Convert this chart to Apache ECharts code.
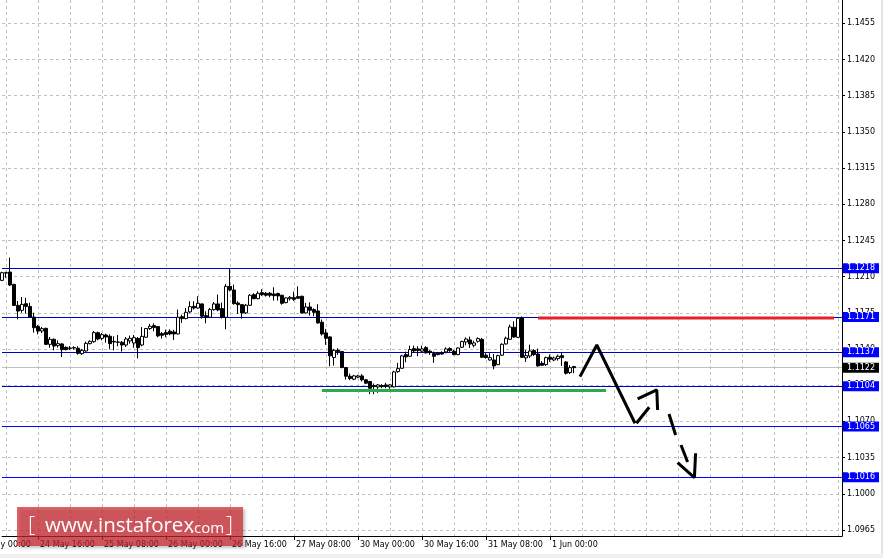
<!DOCTYPE html>
<html><head><meta charset="utf-8">
<script src="https://cdn.jsdelivr.net/npm/echarts@6/dist/echarts.min.js"></script>
<style>html,body{margin:0;padding:0;background:#fff;}#c{width:883px;height:558px;}</style>
</head><body><div id="c"></div><script>
// ---- data ----
const days = ['24 May','25 May','26 May','27 May','30 May','31 May','1 Jun','2 Jun','3 Jun','6 Jun'];
const slotCount = 218;          // hourly slots counted from 24 May 00:00 (incl. chart shift)
const firstBar = 7;             // first visible bar: 24 May 07:00
const firstTimeLabel = '24 May 00:00';
const opens = [1.12064,1.12138,1.12144,1.12025,1.11822,1.11774,1.11838,1.11812,1.11709,1.11619,1.11574,1.11600,1.11445,1.11494,1.11433,1.11449,1.11416,1.11410,1.11413,1.11407,1.11355,1.11381,1.11452,1.11471,1.11558,1.11503,1.11536,1.11523,1.11474,1.11468,1.11465,1.11439,1.11478,1.11458,1.11503,1.11439,1.11514,1.11598,1.11627,1.11617,1.11549,1.11559,1.11572,1.11565,1.11546,1.11713,1.11694,1.11759,1.11813,1.11797,1.11836,1.11723,1.11707,1.11781,1.11836,1.11791,1.11707,1.12006,1.11971,1.11845,1.11829,1.11749,1.11823,1.11926,1.11887,1.11945,1.11939,1.11939,1.11932,1.11936,1.11920,1.11849,1.11887,1.11897,1.11907,1.11910,1.11749,1.11807,1.11781,1.11768,1.11659,1.11556,1.11517,1.11318,1.11388,1.11375,1.11221,1.11137,1.11108,1.11128,1.11140,1.11102,1.11086,1.11047,1.11034,1.11047,1.11053,1.11034,1.11034,1.11182,1.11214,1.11346,1.11330,1.11404,1.11401,1.11379,1.11414,1.11379,1.11356,1.11359,1.11365,1.11372,1.11404,1.11378,1.11346,1.11417,1.11468,1.11488,1.11436,1.11475,1.11494,1.11340,1.11294,1.11294,1.11249,1.11340,1.11449,1.11494,1.11610,1.11513,1.11700,1.11314,1.11333,1.11385,1.11352,1.11262,1.11249,1.11320,1.11294,1.11307,1.11336,1.11275,1.11172,1.11230];
const closes = [1.12138,1.12134,1.12019,1.11822,1.11767,1.11832,1.11812,1.11709,1.11606,1.11574,1.11597,1.11445,1.11494,1.11429,1.11452,1.11394,1.11394,1.11407,1.11410,1.11358,1.11387,1.11455,1.11474,1.11558,1.11497,1.11539,1.11516,1.11452,1.11468,1.11465,1.11439,1.11497,1.11503,1.11510,1.11413,1.11523,1.11598,1.11620,1.11607,1.11527,1.11533,1.11540,1.11546,1.11546,1.11707,1.11694,1.11755,1.11810,1.11797,1.11842,1.11717,1.11707,1.11781,1.11836,1.11778,1.11707,1.12006,1.11971,1.11839,1.11829,1.11749,1.11823,1.11920,1.11887,1.11939,1.11926,1.11920,1.11920,1.11916,1.11913,1.11842,1.11894,1.11900,1.11881,1.11891,1.11749,1.11807,1.11775,1.11755,1.11652,1.11546,1.11504,1.11334,1.11388,1.11375,1.11221,1.11137,1.11115,1.11140,1.11140,1.11102,1.11070,1.11021,1.11037,1.11053,1.11037,1.11041,1.11053,1.11179,1.11211,1.11334,1.11324,1.11395,1.11382,1.11385,1.11401,1.11363,1.11366,1.11330,1.11346,1.11352,1.11401,1.11385,1.11346,1.11410,1.11472,1.11497,1.11449,1.11459,1.11501,1.11320,1.11317,1.11317,1.11237,1.11336,1.11446,1.11504,1.11613,1.11517,1.11697,1.11320,1.11336,1.11381,1.11346,1.11237,1.11243,1.11317,1.11301,1.11314,1.11330,1.11317,1.11166,1.11220,1.11220];
const lows = [1.12057,1.12089,1.12009,1.11816,1.11687,1.11751,1.11742,1.11703,1.11558,1.11542,1.11555,1.11439,1.11413,1.11387,1.11413,1.11323,1.11387,1.11391,1.11394,1.11346,1.11342,1.11375,1.11445,1.11461,1.11484,1.11484,1.11461,1.11397,1.11387,1.11426,1.11375,1.11420,1.11452,1.11413,1.11310,1.11426,1.11507,1.11585,1.11572,1.11514,1.11501,1.11514,1.11533,1.11488,1.11540,1.11652,1.11688,1.11746,1.11781,1.11791,1.11694,1.11649,1.11701,1.11771,1.11765,1.11694,1.11591,1.11958,1.11829,1.11739,1.11694,1.11739,1.11817,1.11881,1.11881,1.11913,1.11907,1.11900,1.11868,1.11868,1.11829,1.11842,1.11868,1.11865,1.11884,1.11743,1.11743,1.11723,1.11717,1.11646,1.11530,1.11440,1.11234,1.11240,1.11343,1.11214,1.11105,1.11099,1.11099,1.11118,1.11086,1.11060,1.10963,1.10963,1.10976,1.11021,1.11021,1.11015,1.11028,1.11169,1.11208,1.11272,1.11324,1.11363,1.11330,1.11369,1.11356,1.11343,1.11266,1.11340,1.11346,1.11359,1.11372,1.11340,1.11340,1.11410,1.11436,1.11410,1.11417,1.11462,1.11314,1.11307,1.11288,1.11204,1.11243,1.11333,1.11443,1.11488,1.11507,1.11507,1.11314,1.11275,1.11314,1.11333,1.11230,1.11237,1.11237,1.11275,1.11282,1.11288,1.11237,1.11153,1.11159,1.11166];
const highs = [1.12147,1.12147,1.12283,1.12031,1.11864,1.11903,1.11896,1.11848,1.11751,1.11632,1.11613,1.11606,1.11516,1.11503,1.11484,1.11458,1.11426,1.11429,1.11426,1.11426,1.11400,1.11471,1.11484,1.11574,1.11568,1.11555,1.11548,1.11542,1.11523,1.11536,1.11478,1.11516,1.11529,1.11536,1.11516,1.11613,1.11604,1.11643,1.11649,1.11623,1.11565,1.11588,1.11591,1.11585,1.11781,1.11733,1.11797,1.11862,1.11862,1.11910,1.11842,1.11765,1.11797,1.11855,1.11926,1.11849,1.12029,1.12180,1.12023,1.11862,1.11836,1.11836,1.11932,1.11939,1.11958,1.11978,1.11952,1.11952,1.11997,1.11945,1.11926,1.11900,1.11913,1.11955,1.12007,1.11916,1.11846,1.11852,1.11794,1.11833,1.11685,1.11594,1.11524,1.11401,1.11408,1.11382,1.11227,1.11163,1.11150,1.11150,1.11157,1.11111,1.11092,1.11066,1.11060,1.11060,1.11073,1.11060,1.11189,1.11266,1.11343,1.11375,1.11433,1.11433,1.11427,1.11433,1.11427,1.11388,1.11375,1.11369,1.11378,1.11417,1.11417,1.11391,1.11417,1.11481,1.11513,1.11520,1.11481,1.11513,1.11507,1.11359,1.11359,1.11352,1.11346,1.11455,1.11520,1.11636,1.11668,1.11707,1.11716,1.11391,1.11443,1.11398,1.11404,1.11282,1.11327,1.11346,1.11327,1.11346,1.11365,1.11282,1.11243,1.11237];
const yTicks = [1.0965,1.1000,1.1035,1.1070,1.1105,1.1140,1.1175,1.1210,1.1245,1.1280,1.1315,1.1350,1.1385,1.1420,1.1455];
const yMin = 1.09592, yMax = 1.14775;
const levelsUpper = [1.1218,1.1171,1.1137,1.1104];
const levelsLower = [1.1065,1.1016];
const bidPrice = 1.1122;
const redLine = [[141,1.1170],[215,1.1170]];
const greenLine = [[87,1.1100],[158,1.1100]];
const arrowStrokes = [
  [[151.5,1.11133],[155.7,1.11439],[165.25,1.10682]],
  [[165.6,1.10682],[168.8,1.10837]],
  [[165.9,1.10917],[170.7,1.11004],[170.9,1.10811]],
  [[173.75,1.10772],[175.4,1.10569]],
  [[176.75,1.10472],[178.4,1.10308]],
  [[175.9,1.10301],[180.1,1.10156],[180.4,1.10392]]
];

// ---- build ----
const FONT = 'DejaVu Sans';
const categories = [];
for (let g = firstBar; g < slotCount; g++) {
  categories.push(days[Math.floor(g / 24)] + ' ' + String(g % 24).padStart(2, '0') + ':00');
}
const lastBar = firstBar + opens.length - 1;
const candleData = opens.map((o, k) => [o, closes[k], lows[k], highs[k]]);

const boxLabel = (bg) => ({
  show: true, position: 'end', distance: 1,
  formatter: p => Number(p.value).toFixed(4),
  backgroundColor: bg, color: '#fff', fontFamily: FONT, fontSize: 8,
  lineHeight: 9, padding: [1, 4, 0, 4]
});
const levelLines = [];
levelsUpper.forEach(v => levelLines.push({yAxis: v, lineStyle: {color: '#0000c8', width: 1, type: 'solid'}, label: boxLabel('#0000ff')}));
levelsLower.forEach(v => levelLines.push({yAxis: v, lineStyle: {color: '#0000ff', width: 1, type: 'solid'}, label: boxLabel('#0000ff')}));
levelLines.push({yAxis: bidPrice, lineStyle: {color: '#c0c0c0', width: 1, type: 'solid'}, label: boxLabel('#000000')});

const lineSeries = (pts, color, z) => ({
  type: 'line', xAxisIndex: 1, yAxisIndex: 0, data: pts, symbol: 'none', silent: true,
  lineStyle: {color: color, width: 3, cap: 'butt'}, z: z, animation: false
});

const series = [
  { type: 'line', xAxisIndex: 0, data: [], silent: true, z: 1,
    markLine: { silent: true, symbol: ['none','none'], animation: false, z: 1, precision: 5,
      label: {show: false},
      lineStyle: {color: '#c0c0c0', width: 1, type: [3, 3]},
      data: yTicks.map(v => ({yAxis: v})) } },
  { type: 'candlestick', xAxisIndex: 0, data: candleData, barWidth: 3, silent: true, z: 3,
    itemStyle: {color: '#ffffff', color0: '#000000', borderColor: '#000000', borderColor0: '#000000', borderColorDoji: '#000000', borderWidth: 1},
    markLine: { silent: true, symbol: ['none','none'], animation: false, z: 2, precision: 5, data: levelLines } },
  lineSeries(redLine, '#e3232b', 4),
  lineSeries(greenLine, '#2ca84e', 4)
];
arrowStrokes.forEach(s => series.push(lineSeries(s, '#000000', 5)));

const chart = echarts.init(document.getElementById('c'));
chart.setOption({
  animation: false,
  backgroundColor: '#ffffff',
  grid: {left: 2, right: 41, top: 0, bottom: 22},
  xAxis: [
    { type: 'category', data: categories, boundaryGap: false,
      axisLine: {show: true, lineStyle: {color: '#000', width: 1}},
      axisTick: {show: true, length: 4, interval: (i) => (i + firstBar) % 16 === 0 && (i + firstBar) <= lastBar, lineStyle: {color: '#000'}},
      axisLabel: {interval: (i) => (i + firstBar) % 16 === 0 && (i + firstBar) <= lastBar, align: 'left', margin: 5, color: '#000', fontFamily: FONT, fontSize: 8, padding: [0, 0, 0, 2]},
      splitLine: {show: true, interval: (i) => (i + firstBar) % 8 === 0, lineStyle: {color: '#c0c0c0', width: 1, type: [3, 3]}} },
    { type: 'value', min: firstBar, max: slotCount - 1, show: false }
  ],
  yAxis: {
    type: 'value', position: 'right', min: yMin, max: yMax,
    axisLine: {show: true, lineStyle: {color: '#000', width: 1}},
    axisTick: {show: true, length: 3, customValues: yTicks, lineStyle: {color: '#000'}},
    axisLabel: {customValues: yTicks, formatter: v => Number(v).toFixed(4), margin: 5, color: '#000', fontFamily: FONT, fontSize: 8},
    splitLine: {show: false}
  },
  series: series,
  graphic: [
    {type: 'text', z: 10, style: {x: -24, y: 541, text: firstTimeLabel, fill: '#000', font: '8px "DejaVu Sans"', verticalAlign: 'top'}},
    {type: 'rect', left: 881, top: 0, shape: {width: 2, height: 558}, style: {fill: '#e4e4e4'}, z: 50},
    {type: 'rect', left: 0, top: 554, shape: {width: 883, height: 4}, style: {fill: '#f0f0f0'}, z: 50},
    {type: 'rect', left: 17, top: 507, shape: {width: 226, height: 39},
      style: {fill: 'rgba(208,38,48,0.7)', shadowBlur: 3, shadowOffsetX: 2, shadowOffsetY: 2, shadowColor: 'rgba(0,0,0,0.35)'}, z: 100},
    {type: 'text', z: 101, style: {x: 28, y: 526, text: '[', fill: '#fff', font: '300 22px "Open Sans"', verticalAlign: 'middle'}},
    {type: 'text', z: 101, style: {x: 45, y: 526.5, text: 'www.instaforex', fill: '#fff', font: '20.5px "Open Sans"', verticalAlign: 'middle'}},
    {type: 'text', z: 101, style: {x: 190, y: 528.5, text: '.com', fill: '#fff', font: '15px "Open Sans"', verticalAlign: 'middle'}},
    {type: 'text', z: 101, style: {x: 226, y: 526, text: ']', fill: '#fff', font: '300 22px "Open Sans"', verticalAlign: 'middle'}}
  ]
});
</script></body></html>
